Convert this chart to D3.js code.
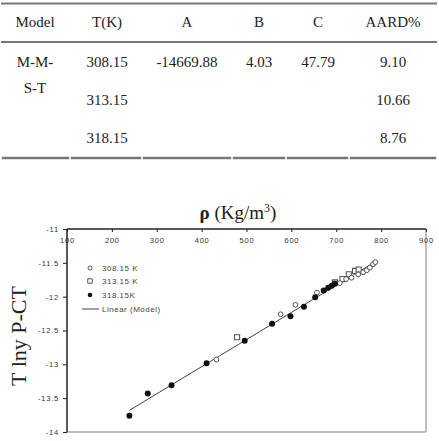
<!DOCTYPE html>
<html><head><meta charset="utf-8">
<script src="https://cdn.jsdelivr.net/npm/d3@7"></script>
</head><body style="margin:0">
<svg id="c" width="439" height="441" style="font-family:&quot;Liberation Serif&quot;"></svg>
<script>
// ---- table data ----
const tableColumns = ["Model","T(K)","A","B","C","AARD%"];
const tableRows = [
  ["M-M-","308.15","-14669.88","4.03","47.79","9.10"],
  ["S-T","313.15","","","","10.66"],
  ["","318.15","","","","8.76"]
];
// ---- chart data ----
const rho308 = [433,576,609,657,708,722,734,749,760,768,775,782,787];
const y308   = [-12.93,-12.26,-12.12,-11.94,-11.80,-11.74,-11.72,-11.67,-11.64,-11.61,-11.57,-11.52,-11.49];
const rho313 = [479,697,714,728,742,750];
const y313   = [-12.60,-11.79,-11.74,-11.67,-11.62,-11.60];
const rho318 = [239,280,333,411,496,557,598,628,653,672,682,690,697];
const y318   = [-13.76,-13.43,-13.31,-12.985,-12.65,-12.40,-12.29,-12.15,-12.01,-11.91,-11.87,-11.84,-11.81];
const rhoLine = [239,788];
const yLine   = [-13.68,-11.48];
const xTicks = [100,200,300,400,500,600,700,800,900];
const yTicks = [-11,-11.5,-12,-12.5,-13,-13.5,-14];
const legendLabels = ["308.15 K","313.15 K","318.15K","Linear (Model)"];

const svg = d3.select("#c");
const SERIF = '"Liberation Serif"';
const SANS = '"Liberation Sans"';

// ---- table ----
const colX = [35,107,187,259,318,393];
const lineColor = "#777";
svg.append("line").attr("x1",1).attr("x2",437).attr("y1",3.5).attr("y2",3.5).attr("stroke",lineColor).attr("stroke-width",2);
svg.append("line").attr("x1",1).attr("x2",437).attr("y1",42).attr("y2",42).attr("stroke",lineColor).attr("stroke-width",2);
const segEdges = [1,70,142,232,286,349,437];
for (let i=0;i<segEdges.length-1;i++){
  svg.append("line").attr("x1",segEdges[i]+0.8).attr("x2",segEdges[i+1]-0.8)
    .attr("y1",158).attr("y2",158).attr("stroke",lineColor).attr("stroke-width",2.5);
}
svg.append("g").selectAll("text").data(tableColumns).join("text").style("font-family",SERIF)
  .attr("x",(d,i)=>colX[i]).attr("y",27).attr("text-anchor","middle")
  .style("font-size","15px").attr("fill","#222").text(d=>d);
const rowY = [67,105,143];
tableRows.forEach((r,ri)=>{
  r.forEach((v,ci)=>{
    if(!v) return;
    let y = rowY[ri];
    if(ci===0 && ri===1) y = 93;
    svg.append("text").style("font-family",SERIF).attr("x",colX[ci]).attr("y",y).attr("text-anchor","middle")
      .style("font-size","15px").attr("fill","#222").text(v);
  });
});

// ---- chart ----
const x = d3.scaleLinear().domain([100,900]).range([67,426]);
const y = d3.scaleLinear().domain([-11,-14]).range([229,432]);

// frame
svg.append("line").attr("x1",67).attr("x2",426).attr("y1",432).attr("y2",432).attr("stroke","#aaa").attr("stroke-width",1.5);
svg.append("line").attr("x1",426).attr("x2",426).attr("y1",229).attr("y2",432).attr("stroke","#aaa").attr("stroke-width",1.5);

const xAxis = svg.append("g").attr("transform","translate(0,229)")
  .call(d3.axisBottom(x).tickValues(xTicks).tickSize(3).tickPadding(6).tickFormat(d3.format("d")));
const yAxis = svg.append("g").attr("transform","translate(67,0)")
  .call(d3.axisLeft(y).tickValues(yTicks).tickSize(4).tickPadding(4).tickFormat(d=>String(d)));
[xAxis,yAxis].forEach(a=>{
  a.select(".domain").attr("stroke","#222").attr("stroke-width",1.5);
  a.selectAll(".tick line").attr("stroke","#222");
  a.selectAll(".tick text").style("font-family",SANS).style("font-size","7.5px").attr("fill","#333").attr("letter-spacing","0.8px");
});
yAxis.select(".domain").attr("d","M0,229V432");
xAxis.select(".domain").attr("d","M67,0H426");

// model line
svg.append("path").datum(rhoLine.map((r,i)=>[r,yLine[i]]))
  .attr("d",d3.line().x(d=>x(d[0])).y(d=>y(d[1])))
  .attr("fill","none").attr("stroke","#444").attr("stroke-width",1);

// points
const sq = d3.symbol().type(d3.symbolSquare).size(26);
svg.append("g").selectAll("path").data(rho313.map((r,i)=>[r,y313[i]])).join("path")
  .attr("d",sq).attr("transform",d=>`translate(${x(d[0])},${y(d[1])})`)
  .attr("fill","#fff").attr("stroke","#555").attr("stroke-width",1.1);
svg.append("g").selectAll("circle").data(rho308.map((r,i)=>[r,y308[i]])).join("circle")
  .attr("cx",d=>x(d[0])).attr("cy",d=>y(d[1])).attr("r",2.4)
  .attr("fill","#fff").attr("stroke","#555").attr("stroke-width",1);
svg.append("g").selectAll("circle").data(rho318.map((r,i)=>[r,y318[i]])).join("circle")
  .attr("cx",d=>x(d[0])).attr("cy",d=>y(d[1])).attr("r",3)
  .attr("fill","#111");

// legend
const lg = svg.append("g");
const ly = [268,281,295,309];
lg.append("circle").attr("cx",90).attr("cy",ly[0]).attr("r",2).attr("fill","#fff").attr("stroke","#555");
lg.append("path").attr("d",d3.symbol().type(d3.symbolSquare).size(20)).attr("transform",`translate(90,${ly[1]})`).attr("fill","#fff").attr("stroke","#555");
lg.append("circle").attr("cx",90).attr("cy",ly[2]).attr("r",2.3).attr("fill","#111");
lg.append("line").attr("x1",82).attr("x2",99).attr("y1",ly[3]).attr("y2",ly[3]).attr("stroke","#444");
lg.selectAll("text").data(legendLabels).join("text").style("font-family",SANS)
  .attr("x",102).attr("y",(d,i)=>ly[i]+3).style("font-size","8px")
  .attr("fill","#444").attr("letter-spacing","0.5px").text(d=>d);

// titles
const t = svg.append("text").style("font-family",SERIF).attr("x",238).attr("y",219).attr("text-anchor","middle")
  .style("font-size","19px").attr("fill","#222");
t.append("tspan").attr("font-weight","bold").text("ρ");
t.append("tspan").text(" (Kg/m");
t.append("tspan").style("font-size","12px").attr("dy",-7).text("3");
t.append("tspan").attr("dy",7).text(")");

svg.append("text").style("font-family",SERIF).attr("transform","translate(26,336) rotate(-90)").attr("text-anchor","middle")
  .style("font-size","22px").attr("fill","#222").text("T lny P-CT");
</script>
</body></html>
